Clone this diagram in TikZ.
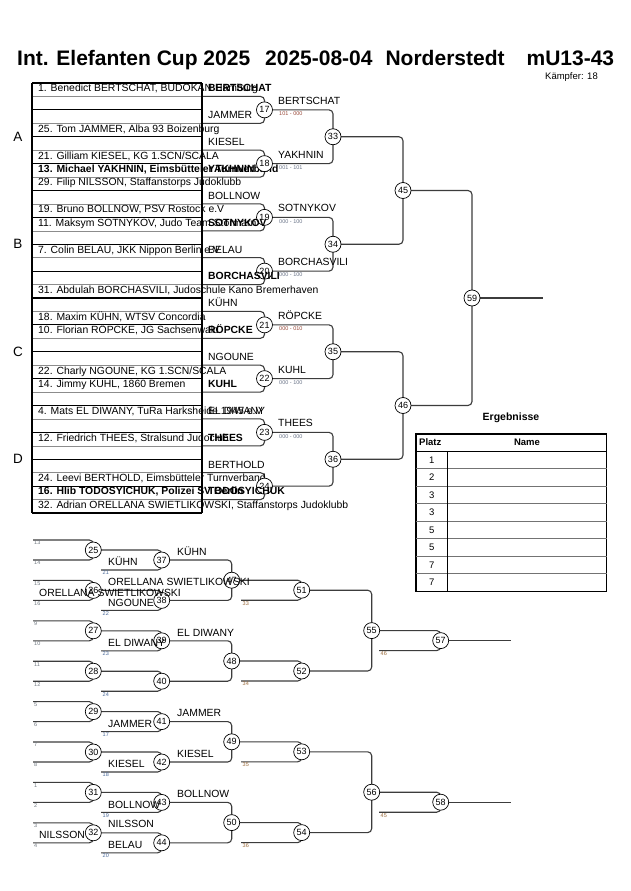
\documentclass[tikz,border=0pt]{standalone}
\usepackage{fontspec}
\setmainfont{Liberation Sans}
\usetikzlibrary{backgrounds}
\definecolor{linecol}{HTML}{3C3C3C}
\definecolor{scorered}{HTML}{9A4A3A}
\definecolor{scorecol}{HTML}{6A7488}
\definecolor{tinycol}{HTML}{707880}
\definecolor{tinyblue}{HTML}{4A6A9A}
\definecolor{tinybrown}{HTML}{9A6A3A}
\newcommand{\myfs}[1]{\fontsize{#1}{#1}\selectfont}
\begin{document}
\begin{tikzpicture}[x=1pt,y=-1pt,
  fc/.style={circle,draw=black,fill=white,line width=0.7pt,minimum size=16pt,inner sep=0pt,font=\myfs{9}},
  br/.style={draw=linecol,line width=1.1pt,rounded corners=4pt},
  ent/.style={anchor=base west,inner sep=0pt,font=\myfs{10.4}},
  bent/.style={anchor=base west,inner sep=0pt,font=\myfs{10.4}\bfseries},
  sc/.style={anchor=base west,inner sep=0pt,font=\myfs{5.5},text=scorecol},
  tn/.style={anchor=base west,inner sep=0pt,font=\myfs{5.5},text=tinycol},
  rowthin/.style={draw=black!45,line width=0.6pt},
  rowthick/.style={draw=black,line width=1.2pt},
  grp/.style={font=\myfs{13.5}},
]
\useasboundingbox (0,0) rectangle (630,891);

% ---------- title ----------
\node[anchor=base west,inner sep=0pt,font=\myfs{21}\bfseries] (title) at (17,65.5)
  {Int. Elefanten Cup 2025\hspace{15pt}2025-08-04\hspace{13pt}Norderstedt\hspace{22pt}mU13-43};
\node[anchor=base east,inner sep=0pt,font=\myfs{9.5}] (kaempfer) at (598,79) {Kämpfer: 18};

% ---------- list ----------
\foreach \k in {1,3,...,31} \draw[rowthin] (32,{83+13.4375*\k}) -- (202,{83+13.4375*\k});
\foreach \k in {0,2,...,32} \draw[rowthick] (32,{83+13.4375*\k}) -- (202,{83+13.4375*\k});
\draw[rowthick] (32,83) -- (32,513);
\draw[rowthick] (202,83) -- (202,513);

\node[grp] (gA) at (18,136.75) {A};
\node[grp] (gB) at (18,244.25) {B};
\node[grp] (gC) at (18,351.75) {C};
\node[grp] (gD) at (18,459.25) {D};

\node[ent]  (e0)  at (38,91.84)  {1. Benedict BERTSCHAT, BUDOKAN Hamburg};
\node[ent]  (e3)  at (38,132.15) {25. Tom JAMMER, Alba 93 Boizenburg};
\node[ent]  (e5)  at (38,159.03) {21. Gilliam KIESEL, KG 1.SCN/SCALA};
\node[bent] (e6)  at (38,172.46) {13. Michael YAKHNIN, Eimsbütteler Turnverband};
\node[ent]  (e7)  at (38,185.9)  {29. Filip NILSSON, Staffanstorps Judoklubb};
\node[ent]  (e9)  at (38,212.78) {19. Bruno BOLLNOW, PSV Rostock e.V};
\node[ent]  (e10) at (38,226.21) {11. Maksym SOTNYKOV, Judo Team Stormarn};
\node[ent]  (e12) at (38,253.09) {7. Colin BELAU, JKK Nippon Berlin e.V};
\node[ent]  (e15) at (38,293.4)  {31. Abdulah BORCHASVILI, Judoschule Kano Bremerhaven};
\node[ent]  (e17) at (38,320.28) {18. Maxim KÜHN, WTSV Concordia};
\node[ent]  (e18) at (38,333.71) {10. Florian RÖPCKE, JG Sachsenwald};
\node[ent]  (e21) at (38,374.03) {22. Charly NGOUNE, KG 1.SCN/SCALA};
\node[ent]  (e22) at (38,387.46) {14. Jimmy KUHL, 1860 Bremen};
\node[ent]  (e24) at (38,414.34) {4. Mats EL DIWANY, TuRa Harksheide 1945 e.V};
\node[ent]  (e26) at (38,441.21) {12. Friedrich THEES, Stralsund Judoclub};
\node[ent]  (e29) at (38,481.53) {24. Leevi BERTHOLD, Eimsbütteler Turnverband};
\node[bent] (e30) at (38,494.96) {16. Hlib TODOSYICHUK, Polizei SV Berlin};
\node[ent]  (e31) at (38,508.4)  {32. Adrian ORELLANA SWIETLIKOWSKI, Staffanstorps Judoklubb};

% ---------- main bracket circles ----------
\foreach \n/\i in {17/0,18/1,19/2,20/3,21/4,22/5,23/6,24/7}
  \node[fc] (f\n) at (264.5,{83+13.4375*(4*\i+2)}) {\n};
\node[fc] (f33) at (333,136.75) {33};
\node[fc] (f34) at (333,244.25) {34};
\node[fc] (f35) at (333,351.75) {35};
\node[fc] (f36) at (333,459.25) {36};
\node[fc] (f45) at (403,190.5) {45};
\node[fc] (f46) at (403,405.5) {46};
\node[fc] (f59) at (472,298) {59};
\coordinate (end59) at (543,298);

% round 1 labels
\node[bent] (l17a) at (208,91.84)  {BERTSCHAT};
\node[ent]  (l17b) at (208,118.71) {JAMMER};
\node[ent]  (l18a) at (208,145.59) {KIESEL};
\node[bent] (l18b) at (208,172.46) {YAKHNIN};
\node[ent]  (l19a) at (208,199.34) {BOLLNOW};
\node[bent] (l19b) at (208,226.21) {SOTNYKOV};
\node[ent]  (l20a) at (208,253.09) {BELAU};
\node[bent] (l20b) at (208,279.96) {BORCHASVILI};
\node[ent]  (l21a) at (208,306.84) {KÜHN};
\node[bent] (l21b) at (208,333.71) {RÖPCKE};
\node[ent]  (l22a) at (208,360.59) {NGOUNE};
\node[bent] (l22b) at (208,387.46) {KUHL};
\node[ent]  (l23a) at (208,414.34) {EL DIWANY};
\node[bent] (l23b) at (208,441.21) {THEES};
\node[ent]  (l24a) at (208,468.09) {BERTHOLD};
\node[bent] (l24b) at (208,494.96) {TODOSYICHUK};

% round 2 labels and scores
\foreach \n/\nm/\s/\c in {17/BERTSCHAT/101 - 000/scorered,18/YAKHNIN/001 - 101/scorecol,19/SOTNYKOV/000 - 100/scorecol,20/BORCHASVILI/000 - 100/scorecol,21/RÖPCKE/000 - 010/scorered,22/KUHL/000 - 100/scorecol,23/THEES/000 - 000/scorecol}{
  \path (f\n) ++(13.5,-5.5) node[ent] (w\n) {\nm};
  \path (f\n) ++(14.5,5.8) node[sc,text=\c] (s\n) {\s};
}

% ---------- results table ----------
\node[font=\myfs{10.5}\bfseries] (erg) at (511,418) {Ergebnisse};
\draw[line width=1.5pt] (416,434) rectangle (606.5,591.4);
\draw[line width=0.9pt] (416,451) -- (606.5,451);
\foreach \m in {1,...,7} \draw[black!55,line width=0.8pt] (416,{451+17.55*\m}) -- (606.5,{451+17.55*\m});
\draw[line width=0.8pt] (447.3,451) -- (447.3,591.4);
\node[anchor=west,inner sep=0pt,font=\myfs{9.5}\bfseries] (platz) at (419,442.5) {Platz};
\node[inner sep=0pt,font=\myfs{9.5}\bfseries] (name) at (527,442.5) {Name};
\foreach \m/\p in {0/1,1/2,2/3,3/3,4/5,5/5,6/7,7/7}
  \node[inner sep=0pt,font=\myfs{9.5}] (p\m) at (431.7,{451+17.55*(\m+0.5)}) {\p};

% ---------- repechage circles ----------
\foreach \n/\j in {25/0,26/1,27/2,28/3,29/4,30/5,31/6,32/7}
  \node[fc] (f\n) at (93.3,{550+40.4*\j}) {\n};
\foreach \n/\j in {37/0,38/1,39/2,40/3,41/4,42/5,43/6,44/7}
  \node[fc] (f\n) at (161.7,{560+40.4*\j}) {\n};
\node[fc] (f47) at (231.7,580.2) {47};
\node[fc] (f48) at (231.7,661.0) {48};
\node[fc] (f49) at (231.7,741.8) {49};
\node[fc] (f50) at (231.7,822.6) {50};
\node[fc] (f51) at (301.7,590.2) {51};
\node[fc] (f52) at (301.7,671.0) {52};
\node[fc] (f53) at (301.7,751.8) {53};
\node[fc] (f54) at (301.7,832.6) {54};
\node[fc] (f55) at (371.7,630.6) {55};
\node[fc] (f56) at (371.7,792.2) {56};
\node[fc] (f57) at (440.7,640.6) {57};
\node[fc] (f58) at (440.7,802.2) {58};
\coordinate (end57) at (511,640.6);
\coordinate (end58) at (511,802.2);

% repechage small numbers
\foreach \n/\a/\b in {25/13/14,26/15/16,27/9/10,28/11/12,29/5/6,30/7/8,31/1/2,32/3/4}{
  \path (f\n) ++(-60.3,-10) coordinate (ra\n) ++(0,20) coordinate (rb\n);
  \path (ra\n) ++(1,4.8) node[tn] (ta\n) {\a};
  \path (rb\n) ++(1,4.8) node[tn] (tb\n) {\b};
}
\foreach \n/\a in {37/21,38/22,39/23,40/24,41/17,42/18,43/19,44/20}{
  \path (f\n) ++(-60.7,10) coordinate (rc\n);
  \path (rc\n) ++(1.5,4.8) node[tn,text=tinyblue] (tc\n) {\a};
}
\foreach \n/\a in {51/33,52/34,53/35,54/36}{
  \path (f\n) ++(-60.7,10) coordinate (rc\n);
  \path (rc\n) ++(1.5,4.8) node[tn,text=tinybrown] (tc\n) {\a};
}
\foreach \n/\a in {57/46,58/45}{
  \path (f\n) ++(-61.7,10) coordinate (rc\n);
  \path (rc\n) ++(1.5,4.8) node[tn,text=tinybrown] (tc\n) {\a};
}

% repechage names
\foreach \n/\nm in {37/KÜHN,38/NGOUNE,39/EL DIWANY,41/JAMMER,42/KIESEL,43/BOLLNOW,44/BELAU}
  \path (rc\n) ++(7,-4.3) node[ent] (rn\n) {\nm};
\path (rb26) ++(6,-4.3) node[ent] (rn26) {ORELLANA SWIETLIKOWSKI};
\path (rb32) ++(6,-4.3) node[ent] (rn32) {NILSSON};
\path (f26) ++(14.7,-5.3) node[ent] (wn26) {ORELLANA SWIETLIKOWSKI};
\path (f32) ++(14.7,-5.3) node[ent] (wn32) {NILSSON};
\foreach \n/\nm in {37/KÜHN,39/EL DIWANY,41/JAMMER,42/KIESEL,43/BOLLNOW}
  \path (f\n) ++(15.3,-4.8) node[ent] (wn\n) {\nm};

% ---------- connectors (background) ----------
\begin{scope}[on background layer]
\fill[white] (0,0) rectangle (630,891);
\foreach \n/\i in {17/0,18/1,19/2,20/3,21/4,22/5,23/6,24/7}{
  \coordinate (sa\n) at (202,{83+13.4375*(4*\i+1)});
  \coordinate (sb\n) at (202,{83+13.4375*(4*\i+3)});
  \draw[br] (sa\n) -| (f\n.center);
  \draw[br] (sb\n) -| (f\n.center);
}
\foreach \a/\b in {17/33,18/33,19/34,20/34,21/35,22/35,23/36,24/36,33/45,34/45,35/46,36/46,45/59,46/59}
  \draw[br] (f\a.center) -| (f\b.center);
\draw[br] (f59.center) -- (end59);

\foreach \n in {25,...,32}{
  \draw[br] (ra\n) -| (f\n.center);
  \draw[br] (rb\n) -| (f\n.center);
}
\foreach \a/\b in {25/37,26/38,27/39,28/40,29/41,30/42,31/43,32/44,37/47,38/47,39/48,40/48,41/49,42/49,43/50,44/50,47/51,48/52,49/53,50/54,51/55,52/55,53/56,54/56,55/57,56/58}
  \draw[br] (f\a.center) -| (f\b.center);
\foreach \n in {37,...,44,51,52,53,54,57,58}
  \draw[br] (rc\n) -| (f\n.center);
\draw[br] (f57.center) -- (end57);
\draw[br] (f58.center) -- (end58);
\end{scope}
\end{tikzpicture}
\end{document}
